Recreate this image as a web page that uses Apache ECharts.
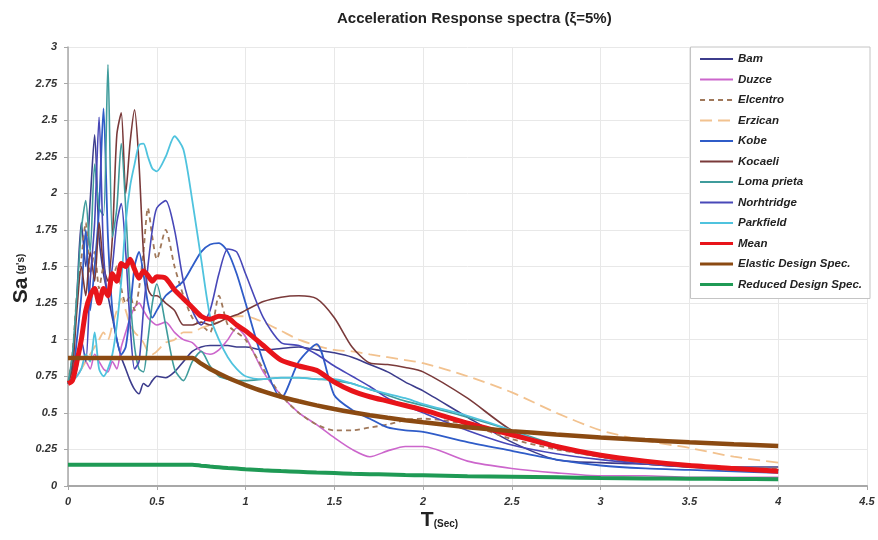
<!DOCTYPE html>
<html>
<head>
<meta charset="utf-8">
<title>Acceleration Response spectra</title>
<script src="https://cdn.jsdelivr.net/npm/echarts@6/dist/echarts.min.js"></script>
<style>
  html, body { margin: 0; padding: 0; background: #fff; }
  #chart { width: 878px; height: 540px; }
</style>
</head>
<body>
<div id="chart"></div>
<script>
// periods T (sec)
const periods = [0, 0.025, 0.05, 0.075, 0.1, 0.125, 0.15, 0.175, 0.2, 0.225, 0.25, 0.275, 0.3, 0.325, 0.35, 0.375, 0.4, 0.425, 0.45, 0.475, 0.5,
  0.55, 0.6, 0.65, 0.7, 0.75, 0.8, 0.85, 0.9, 0.95, 1.0,
  1.1, 1.2, 1.3, 1.4, 1.5, 1.6, 1.7, 1.8, 1.9, 2.0,
  2.25, 2.5, 2.75, 3.0, 3.25, 3.5, 3.75, 4.0];

// Sa (g's)
const bam = [0.7, 0.85, 1.3, 1.8, 1.5, 1.95, 2.4, 1.7, 1.45, 1.3, 1.15, 1.0, 0.88, 0.8, 0.72, 0.66, 0.63, 0.7, 0.68, 0.72, 0.75,
  0.74, 0.78, 0.85, 0.92, 0.95, 0.96, 0.96, 0.96, 0.95, 0.95,
  0.93, 0.94, 0.95, 0.93, 0.91, 0.88, 0.83, 0.78, 0.71, 0.65,
  0.47, 0.3, 0.18, 0.16, 0.15, 0.14, 0.13, 0.13];
const duzce = [0.7, 0.72, 0.75, 0.8, 0.85, 0.8, 0.9, 0.85, 0.8, 0.78, 0.85, 0.8, 0.95, 1.05, 1.15, 1.22, 1.25, 1.2, 1.15, 1.12, 1.1,
  1.12, 1.05, 1.0, 0.98, 0.92, 0.9, 0.93, 1.0, 1.08, 1.02,
  0.78, 0.62, 0.5, 0.42, 0.33, 0.25, 0.2, 0.24, 0.27, 0.27,
  0.17, 0.12, 0.09, 0.07, 0.07, 0.06, 0.06, 0.06];
const elcentro = [0.7, 0.9, 1.3, 1.55, 1.8, 1.45, 1.6, 1.35, 1.5, 1.3, 1.4, 1.5, 1.35, 1.25, 1.3, 1.2, 1.35, 1.6, 1.9, 1.7, 1.55,
  1.75, 1.5, 1.3, 1.15, 1.1, 1.05, 1.3, 1.1, 1.05, 1.0,
  0.8, 0.62, 0.5, 0.42, 0.38, 0.38, 0.4, 0.42, 0.45, 0.46,
  0.42, 0.32, 0.25, 0.2, 0.16, 0.14, 0.12, 0.12];
const erzican = [0.7, 0.72, 0.75, 0.8, 0.85, 0.9, 0.95, 1.0, 1.05, 1.0, 1.1, 1.2, 1.28, 1.2, 1.1, 1.05, 1.02, 0.98, 0.92, 0.9, 0.92,
  0.98, 1.0, 1.05, 1.05, 1.08, 1.1, 1.12, 1.15, 1.16, 1.16,
  1.12, 1.06, 1.0, 0.96, 0.93, 0.92, 0.9, 0.88, 0.86, 0.84,
  0.75, 0.64, 0.5, 0.38, 0.31, 0.26, 0.2, 0.16];
const kobe = [0.7, 0.75, 1.0, 1.3, 1.75, 1.2, 1.5, 1.9, 2.58, 1.7, 1.2, 1.0, 0.9, 0.95, 1.2, 1.5, 1.6, 1.45, 1.25, 1.15, 1.2,
  1.3, 1.35, 1.4, 1.5, 1.6, 1.65, 1.66, 1.6, 1.45, 1.25,
  0.85, 0.6, 0.85, 0.97, 0.62, 0.52, 0.46, 0.4, 0.38, 0.37,
  0.3, 0.24, 0.18, 0.14, 0.12, 0.11, 0.1, 0.09];
const kocaeli = [0.7, 0.8, 1.2, 1.5, 1.3, 1.6, 1.4, 1.8, 1.5, 1.4, 1.7, 2.4, 2.55, 2.0, 2.35, 2.57, 2.2, 1.6, 1.35, 1.3, 1.3,
  1.25, 1.2, 1.1, 1.1, 1.12, 1.1, 1.12, 1.15, 1.17, 1.2,
  1.26, 1.29, 1.3, 1.28, 1.15, 0.95, 0.84, 0.83, 0.81, 0.78,
  0.6, 0.38, 0.27, 0.2, 0.15, 0.13, 0.12, 0.11];
const lomaPrieta = [0.7, 0.9, 1.3, 1.75, 1.95, 1.6, 2.2, 1.9, 1.85, 2.88, 1.7, 1.9, 2.34, 1.9, 1.3, 0.95, 0.8, 0.78, 1.0, 1.25, 1.38,
  1.1, 0.8, 0.72, 0.85, 0.92, 0.82, 0.75, 0.73, 0.72, 0.72,
  0.73, 0.74, 0.74, 0.73, 0.72, 0.7, 0.66, 0.62, 0.58, 0.55,
  0.47, 0.38, 0.28, 0.2, 0.16, 0.13, 0.11, 0.1];
const northridge = [0.7, 0.72, 0.8, 1.0, 0.85, 1.4, 1.8, 2.52, 1.6, 1.3, 1.5, 1.8, 1.93, 1.6, 1.1, 0.8, 0.85, 1.2, 1.5, 1.75, 1.9,
  1.95, 1.75, 1.4, 1.2, 1.1, 1.2, 1.45, 1.62, 1.6, 1.45,
  1.15, 0.98, 0.96, 0.9, 0.82, 0.75, 0.68, 0.6, 0.55, 0.5,
  0.38, 0.28, 0.22, 0.18, 0.15, 0.13, 0.12, 0.11];
const parkfield = [0.7, 0.72, 0.75, 0.8, 0.9, 0.85, 1.05, 0.8, 0.75, 0.8, 0.9, 1.1, 1.4, 1.8, 2.05, 2.2, 2.33, 2.34, 2.25, 2.17, 2.15,
  2.25, 2.39, 2.3, 1.95, 1.55, 1.16, 1.0, 0.88, 0.8, 0.75,
  0.73, 0.74, 0.74, 0.73, 0.73, 0.7, 0.66, 0.63, 0.6, 0.56,
  0.48, 0.38, 0.26, 0.2, 0.16, 0.14, 0.12, 0.11];
const mean = [0.7, 0.72, 0.85, 1.0, 1.2, 1.3, 1.35, 1.25, 1.35, 1.3, 1.45, 1.4, 1.52, 1.5, 1.55, 1.48, 1.42, 1.47, 1.44, 1.4, 1.43,
  1.42, 1.34, 1.28, 1.22, 1.16, 1.14, 1.16, 1.15, 1.1, 1.06,
  0.96, 0.86, 0.82, 0.79, 0.71, 0.65, 0.61, 0.58, 0.55, 0.52,
  0.43, 0.35, 0.27, 0.21, 0.17, 0.14, 0.12, 0.1];
const elasticSpec = [0.875, 0.875, 0.875, 0.875, 0.875, 0.875, 0.875, 0.875, 0.875, 0.875, 0.875, 0.875, 0.875, 0.875, 0.875, 0.875, 0.875, 0.875, 0.875, 0.875, 0.875,
  0.875, 0.875, 0.875, 0.875, 0.836, 0.8, 0.769, 0.74, 0.714, 0.69,
  0.647, 0.61, 0.579, 0.551, 0.526, 0.504, 0.484, 0.466, 0.45, 0.435,
  0.402, 0.375, 0.352, 0.332, 0.314, 0.299, 0.286, 0.274];
const reducedSpec = [0.146, 0.146, 0.146, 0.146, 0.146, 0.146, 0.146, 0.146, 0.146, 0.146, 0.146, 0.146, 0.146, 0.146, 0.146, 0.146, 0.146, 0.146, 0.146, 0.146, 0.146,
  0.146, 0.146, 0.146, 0.146, 0.139, 0.133, 0.128, 0.123, 0.119, 0.115,
  0.108, 0.102, 0.097, 0.092, 0.088, 0.084, 0.081, 0.078, 0.075, 0.073,
  0.067, 0.063, 0.059, 0.055, 0.052, 0.05, 0.048, 0.046];

const FONT = '"Liberation Sans", Arial, sans-serif';

function pairs(values) {
  return periods.map((t, i) => [t, values[i]]);
}

function line(name, values, color, width, dash, z) {
  return {
    name: name,
    type: 'line',
    data: pairs(values),
    symbol: 'none',
    smooth: 0.25,
    z: z || 2,
    lineStyle: { color: color, width: width, type: dash || 'solid' },
    itemStyle: { color: color },
  };
}

const myChart = echarts.init(document.getElementById('chart'));

const option = {
  animation: false,
  title: {
    text: 'Acceleration Response spectra (ξ=5%)',
    left: 332,
    top: 6,
    textStyle: { fontFamily: FONT, fontSize: 15, fontWeight: 'bold', color: '#222' },
  },
  legend: {
    orient: 'vertical',
    right: 8,
    top: 47,
    padding: [6, 8, 8, 8],
    itemGap: 8.5,
    itemWidth: 33,
    itemHeight: 12,
    // hide the dot ECharts puts on line legend icons
    itemStyle: { opacity: 0 },
    lineStyle: { width: 2 },
    backgroundColor: '#fff',
    borderColor: '#c4c4c4',
    borderWidth: 1,
    textStyle: { fontFamily: FONT, fontSize: 11.5, fontStyle: 'italic', fontWeight: 'bold', color: '#222' },
    data: ['Bam', 'Duzce', 'Elcentro', 'Erzican', 'Kobe', 'Kocaeli', 'Loma prieta', 'Norhtridge', 'Parkfield',
      { name: 'Mean', lineStyle: { width: 3 } },
      { name: 'Elastic Design Spec.', lineStyle: { width: 3 } },
      { name: 'Reduced Design Spec.', lineStyle: { width: 3 } }],
  },
  grid: { left: 68, right: 11, top: 47, bottom: 54 },
  xAxis: {
    type: 'value',
    min: 0,
    max: 4.5,
    interval: 0.5,
    name: '{a|T}{b|(Sec)}',
    nameLocation: 'middle',
    nameGap: 24,
    nameMoveOverlap: false,
    nameTextStyle: {
      padding: [0, 56, 0, 0],
      rich: {
        a: { fontFamily: FONT, fontSize: 21, fontWeight: 'bold', color: '#222' },
        b: { fontFamily: FONT, fontSize: 10, fontWeight: 'bold', color: '#222', padding: [8, 0, 0, 0] },
      },
    },
    axisLine: { lineStyle: { color: '#a8a8a8', width: 2 } },
    axisTick: { show: true, length: 4, lineStyle: { color: '#a8a8a8' } },
    axisLabel: { margin: 10, fontFamily: FONT, fontSize: 11, fontStyle: 'italic', fontWeight: 'bold', color: '#333' },
    splitLine: { show: true, lineStyle: { color: '#e8e8e8', width: 1 } },
  },
  yAxis: {
    type: 'value',
    min: 0,
    max: 3,
    interval: 0.25,
    name: '{a|Sa} {b|(g\'s)}',
    nameLocation: 'middle',
    nameGap: 36,
    nameMoveOverlap: false,
    nameTextStyle: {
      padding: [0, 24, 0, 0],
      rich: {
        a: { fontFamily: FONT, fontSize: 21, fontWeight: 'bold', color: '#222' },
        b: { fontFamily: FONT, fontSize: 10, fontWeight: 'bold', color: '#222' },
      },
    },
    axisLine: { show: true, lineStyle: { color: '#a8a8a8', width: 1.5 } },
    axisTick: { show: true, length: 4, lineStyle: { color: '#a8a8a8' } },
    axisLabel: { margin: 11, fontFamily: FONT, fontSize: 11, fontStyle: 'italic', fontWeight: 'bold', color: '#333' },
    splitLine: { show: true, lineStyle: { color: '#e8e8e8', width: 1 } },
  },
  series: [
    line('Bam', bam, '#3c3c8c', 1.6),
    line('Duzce', duzce, '#cc66cc', 1.6),
    line('Elcentro', elcentro, '#a0785a', 1.8, [5, 4]),
    line('Erzican', erzican, '#f2c28f', 1.8, [12, 6]),
    line('Kobe', kobe, '#2f5cc8', 1.8),
    line('Kocaeli', kocaeli, '#7a3a3a', 1.6),
    line('Loma prieta', lomaPrieta, '#3f9c9c', 1.6),
    line('Norhtridge', northridge, '#4848b8', 1.6),
    line('Parkfield', parkfield, '#4fc3de', 1.8),
    line('Mean', mean, '#e8141a', 5, null, 5),
    line('Elastic Design Spec.', elasticSpec, '#8b4a12', 4.5, null, 6),
    line('Reduced Design Spec.', reducedSpec, '#1f9a55', 4, null, 6),
  ],
};

myChart.setOption(option);
</script>
</body>
</html>
